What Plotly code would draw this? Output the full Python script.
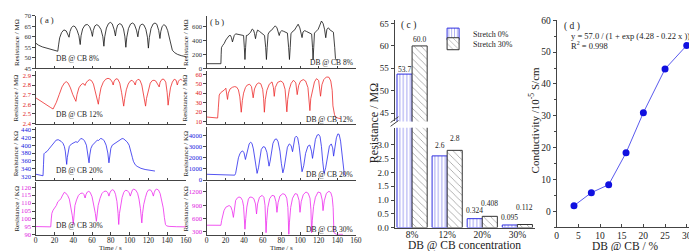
import plotly.graph_objects as go

W, H = 697, 251
FONT = "Liberation Serif"

def px(x):
    return x / W

def py(y):
    return 1 - y / H

# ---------------- DATA ----------------
time_ticks = [0, 20, 40, 60, 80, 100, 120, 140, 160]

# (a) DB @ CB 8 %  (time s, resistance MOhm)
a8 = [(0, 57.0), (3, 56.0), (7, 55.2), (12, 54.5), (17, 54.0), (21, 53.6), (23.5, 53.1), (24.5, 56.5), (25.5, 59.5),
      (27.5, 62.0), (30, 63.3), (32.5, 62.8), (34.3, 61.3), (35.5, 59.8), (36.5, 62.5), (38, 64.3), (40, 65.2), (42, 64.8),
      (44, 63.2), (46, 60.5), (47.4, 56.3), (48.3, 60.5), (50, 63.8), (52.5, 65.6), (55, 65.9), (57.5, 64.8), (59.3, 62.5),
      (60.4, 60.2), (61.3, 63.0), (63, 65.2), (65, 65.8), (67, 65.3), (69.5, 63.5), (71.5, 60.0), (72.6, 55.5), (73.5, 60.0),
      (75.3, 64.2), (77.5, 66.3), (79.5, 66.9), (81.5, 66.2), (83.5, 63.5), (84.9, 60.4), (85.8, 63.3), (87.3, 65.6),
      (89.5, 66.3), (91.5, 65.8), (93.5, 63.8), (95, 60.0), (96, 55.0), (97, 59.8), (98.8, 64.0), (101, 66.1), (103, 66.6),
      (105, 66.0), (107.3, 63.2), (108.8, 60.0), (109.7, 63.0), (111.2, 65.4), (113.3, 66.1), (115.3, 65.6), (117.3, 63.6),
      (119, 59.8), (120, 54.6), (121, 59.6), (122.8, 64.0), (125, 66.1), (127, 66.6), (129, 66.0), (131, 63.0), (132.3, 59.2),
      (133.2, 62.5), (134.7, 65.0), (136.5, 65.8), (138.5, 65.2), (140.5, 63.0), (142.5, 59.5), (144, 55.5), (145.5, 53.6),
      (148, 52.4), (151, 51.6), (155, 51.0), (160, 50.5)]

# (a) DB @ CB 12 %  (MOhm)
a12 = [(0, 2.667), (4, 2.64), (8, 2.61), (12, 2.585), (16, 2.565), (18.5, 2.55), (20, 2.575), (22, 2.62), (25, 2.70),
       (28, 2.78), (30.5, 2.82), (32.5, 2.835), (34.5, 2.82), (37, 2.77), (39.5, 2.70), (41.5, 2.65), (42.8, 2.63),
       (44, 2.70), (46, 2.77), (48, 2.80), (50, 2.815), (51.5, 2.81), (52.5, 2.795), (53.5, 2.82), (55.5, 2.845),
       (57.5, 2.855), (59.5, 2.845), (61.5, 2.81), (63.5, 2.74), (65.5, 2.66), (66.7, 2.60), (67.8, 2.68), (69.5, 2.77),
       (72, 2.83), (74.5, 2.86), (77, 2.87), (79.5, 2.86), (81.5, 2.83), (82.5, 2.80), (83.5, 2.84), (85.5, 2.865),
       (87.5, 2.86), (89.5, 2.82), (91.5, 2.72), (93, 2.63), (93.7, 2.58), (94.8, 2.66), (96.5, 2.75), (98.5, 2.81),
       (100.5, 2.84), (102.5, 2.85), (104.5, 2.83), (106, 2.80), (107, 2.84), (109, 2.86), (111, 2.85), (113, 2.80),
       (115, 2.70), (116.3, 2.62), (117, 2.58), (118, 2.66), (120, 2.76), (122, 2.82), (124, 2.845), (126, 2.85),
       (128, 2.84), (130, 2.81), (131.5, 2.78), (132.5, 2.83), (134.5, 2.86), (136.5, 2.86), (138.5, 2.83), (140, 2.72),
       (141, 2.59), (142, 2.67), (143.5, 2.77), (145.5, 2.83), (147.5, 2.86), (149.5, 2.85), (150.8, 2.80), (152, 2.84),
       (154, 2.86), (156, 2.85)]

# (a) DB @ CB 20 %  (KOhm)
a20 = [(0, 326), (3, 325), (6, 323), (7.8, 322), (8.3, 350), (8.8, 378), (10, 381), (12, 384), (14, 390), (16.5, 397),
       (19, 406), (21.8, 413), (24, 414), (27, 410), (29, 405), (30.5, 397), (31.5, 385), (32.5, 365), (33, 351),
       (33.6, 368), (34.5, 385), (35.8, 397), (38, 403), (40, 406), (42.8, 409), (44.5, 407), (46, 412), (48, 417),
       (50, 416), (52, 411), (54, 400), (55.5, 380), (56.8, 355), (57.6, 375), (58.8, 392), (60.4, 400), (62.5, 406),
       (65.6, 413), (67, 412), (69, 417), (71, 416), (73, 411), (75, 400), (76.8, 380), (78, 355), (78.8, 375), (80, 392),
       (81.5, 400), (84, 404), (86.5, 407), (88.4, 409), (90, 412), (92, 417), (93.8, 416), (95.4, 413), (97.5, 408),
       (99.5, 400), (101.5, 385), (103, 368), (104, 359), (106, 350), (108, 346), (112, 341), (116.5, 338), (122, 336),
       (127, 334)]

# (a) DB @ CB 30 %  (KOhm)
a30 = [(0, 95.2), (5, 95.1), (10, 95.0), (16, 95.0), (16.6, 100), (17.2, 103.5), (18.5, 105.5), (20, 106.8), (22, 108.5),
       (23.5, 110.8), (25.5, 112.0), (27, 112.8), (28.2, 114.5), (29.3, 116.0), (30.5, 116.8), (32, 116.3), (34, 114.8),
       (35.8, 112.5), (37.5, 108), (39, 102), (40, 96.5), (40.8, 103), (41.8, 108.5), (43.5, 112), (45.5, 114.8),
       (47.5, 116), (49.8, 116.4), (51.3, 115.5), (52.6, 113.2), (53.6, 115.5), (55, 117.0), (56.5, 117.4), (58, 116.8),
       (60, 114), (61.8, 109.5), (63.5, 103.5), (64.6, 98.5), (65.4, 104), (66.5, 108.5), (68.5, 113), (70.5, 116),
       (72.6, 117.3), (75, 117.6), (76.8, 116.5), (78, 114.4), (79, 116.5), (80.5, 118.0), (82, 118.4), (83.5, 117.8),
       (85, 115.5), (86.5, 111), (87.7, 103.5), (88.4, 96.5), (89.2, 103.5), (90.3, 108.5), (92, 113.5), (93.8, 116.8),
       (95.4, 118.0), (97.5, 117.9), (99.5, 116.5), (100.7, 114.4), (101.7, 116.8), (103, 118.3), (104.5, 118.8),
       (106.5, 118.2), (108.5, 116.2), (110, 112.5), (111.5, 106.5), (112.4, 101), (113, 97.5), (113.8, 103.5),
       (115, 109), (116.8, 113.5), (118.5, 116.8), (120.2, 118.3), (122.3, 118.3), (124, 116.8), (125.3, 114.4),
       (126.3, 116.8), (127.5, 118.4), (128.9, 118.8), (130.8, 118.2), (132.5, 116), (134.3, 111.5), (135.8, 107),
       (137, 101), (138.2, 96.5), (139.5, 95.6), (142, 95.3), (150, 95.1), (160, 95.0)]

# (b) DB @ CB 8 %  (MOhm)
b8 = [(0, 65), (5, 65), (10, 65), (15.2, 65), (15.5, 200), (15.8, 295), (17, 325), (18.7, 355), (20.5, 405), (22.3, 448),
      (24, 468), (25.5, 470), (26.5, 440), (27.6, 378), (28.5, 420), (29.5, 470), (31, 494), (33, 488), (35, 478),
      (36.4, 470), (38, 472), (39.5, 470), (40.3, 300), (41, 125), (41.7, 300), (42.5, 470), (44, 475), (45.5, 492),
      (47, 517), (48.8, 563), (50.2, 548), (51.2, 500), (52.3, 424), (53.3, 500), (54.5, 548), (56.5, 530), (58.5, 505),
      (60.5, 482), (62, 470), (63.2, 300), (64, 125), (64.8, 300), (65.8, 490), (67.5, 528), (69.5, 545), (71.5, 580),
      (73.5, 609), (75.3, 580), (76.5, 530), (77.7, 470), (78.8, 520), (80.5, 540), (82.5, 530), (84.5, 512), (86.5, 505),
      (87.8, 300), (88.7, 125), (89.5, 300), (90.3, 495), (92, 528), (94, 545), (96, 590), (98, 632), (99.8, 580),
      (101, 520), (102.2, 440), (103.2, 520), (105, 540), (107, 528), (109, 517), (111, 505), (112.5, 490), (113.4, 300),
      (114, 125), (114.7, 300), (115.5, 505), (117.3, 530), (119.5, 560), (121.3, 620), (123, 678), (124.8, 640),
      (126.3, 560), (127.6, 438), (128.8, 560), (130.5, 580), (132.5, 545), (134.5, 530), (135.8, 517), (137.2, 300),
      (138, 140), (139.5, 110)]

# (b) DB @ CB 12 %  (MOhm)
b12 = [(0, 14.5), (5, 14.0), (11.7, 13.4), (12.5, 25), (13.4, 38), (15, 40.5), (17, 41.8), (19, 43.5), (20.5, 45.3),
       (21.5, 40), (22.3, 33.3), (23.2, 40), (25, 44.5), (27.6, 46.3), (30, 47), (32, 46.5), (34, 43.5), (35.5, 36),
       (37, 19.6), (38.2, 32), (39.5, 40), (41.5, 46), (43.5, 48.7), (46, 49.5), (48, 47), (49.8, 35), (51.2, 44.5),
       (53.5, 49.5), (55.8, 51), (58, 50), (60, 44), (61, 34), (61.8, 19.6), (62.8, 33), (64.5, 43), (67, 49.5), (70, 52),
       (71.5, 46), (72.4, 36.6), (73.5, 46), (76, 51.5), (79.5, 53), (82, 51), (84, 44), (85.2, 33), (85.9, 20), (86.8, 33),
       (88.5, 44), (90.5, 50.5), (93, 53.8), (95.5, 51), (97, 38.4), (98.5, 48), (100.5, 52.8), (103.5, 54.5), (106, 53),
       (108.5, 46), (110, 33), (110.6, 21.3), (111.5, 34), (113.5, 45), (115.5, 52), (117.7, 55.5), (120, 53.5),
       (122, 36.7), (123.5, 49), (125.5, 54.5), (128.3, 57.3), (131, 57), (133, 53), (134.5, 43), (135.3, 26.4), (137, 17),
       (138, 14.5), (141, 13.2), (144, 12.7)]

# (b) DB @ CB 20 %  (KOhm)
b20 = [(0, 520), (10, 480), (20, 450), (30, 440), (31, 600), (32.5, 1400), (34, 2000), (35.5, 2350), (37, 2550),
       (38.5, 2620), (40, 2450), (41.5, 1850), (42.8, 2300), (44, 2900), (45.5, 3250), (47, 3400), (48.5, 3300),
       (50, 2800), (51.5, 1800), (52.5, 1100), (54, 600), (55.5, 1100), (57, 2100), (58.5, 2750), (60.5, 3000),
       (62.5, 2950), (64.5, 2500), (66, 1500), (66.8, 1250), (68, 1700), (69.5, 2700), (71, 3300), (73, 3650),
       (74.8, 3700), (76.5, 3450), (78.5, 2600), (80, 1500), (81.6, 650), (83, 1100), (84.5, 2100), (86.5, 2950),
       (88.5, 3250), (90.5, 3100), (92, 2550), (93, 3200), (94.5, 3800), (96, 3950), (97.5, 3800), (99, 3100),
       (100.5, 1900), (102.2, 750), (104, 1300), (106, 2400), (108.5, 3050), (110.5, 3150), (112.3, 2600), (113.4, 1950),
       (114.8, 2700), (116.5, 3650), (118.5, 4050), (120, 4100), (121.5, 3900), (123, 3000), (124.3, 1700), (125.8, 600),
       (127.5, 1100), (129.5, 2300), (131.5, 3050), (133.5, 3250), (135, 2900), (136, 2150), (137.5, 3000), (139, 3800),
       (140.6, 4150), (142, 4100), (143.5, 3500), (144.8, 2500), (146.2, 1000), (147.5, 500), (149.5, 380)]

# (b) DB @ CB 30 %  (KOhm)
b30 = [(0, 452), (8, 450), (15.2, 450), (16, 560), (17, 666), (18.5, 780), (20.5, 857), (22.5, 890), (24, 895),
       (25.8, 870), (27.3, 780), (28.6, 628), (29.6, 800), (31, 1009), (33, 1070), (34.6, 1086), (36.5, 1075),
       (38.3, 1010), (39.5, 880), (40.3, 650), (41, 361), (41.8, 600), (43, 860), (44.7, 1040), (46.3, 1086),
       (48.5, 1080), (50.5, 1050), (52.3, 930), (53.4, 704), (54.5, 930), (56.5, 1080), (59.4, 1124), (61.3, 1080),
       (62.5, 900), (63.1, 600), (63.6, 284), (64.3, 560), (65.5, 850), (67.5, 1050), (70, 1124), (72.5, 1110),
       (74.2, 980), (75.3, 742), (76.5, 960), (78.5, 1110), (81.6, 1162), (84, 1140), (85.8, 1060), (87, 850), (87.6, 550),
       (88, 246), (88.7, 520), (90, 850), (92, 1060), (94.7, 1162), (97, 1150), (99, 1010), (100, 742), (101.3, 980),
       (103.5, 1140), (106.4, 1200), (108.8, 1170), (110.7, 1060), (111.7, 800), (112.4, 284), (113.2, 560), (114.5, 870),
       (116.5, 1080), (119.4, 1200), (122, 1180), (123.8, 1020), (124.7, 780), (126, 1000), (128.3, 1170), (131, 1215),
       (133, 1185), (134.5, 1080), (135.5, 850), (136.4, 284), (138.9, 246), (142, 245), (146, 246)]

# (c) resistance at stretch 0 % / 30 %
conc_labels = ["8%", "12%", "20%", "30%"]
stretch0 = [53.7, 2.6, 0.324, 0.095]
stretch30 = [60.0, 2.8, 0.408, 0.112]
stretch0_text = ["53.7", "2.6", "0.324", "0.095"]
stretch30_text = ["60.0", "2.8", "0.408", "0.112"]

# (d) conductivity
dbcb_pct = [4, 8, 12, 16, 20, 25, 30]
conductivity = [1.8, 5.9, 8.4, 18.4, 31.0, 44.7, 52.1]

# tick values
a_ticks = [[45, 50, 55, 60, 65, 70], [2.4, 2.5, 2.6, 2.7, 2.8, 2.9],
           [320, 340, 360, 380, 400, 420, 440], [90, 95, 100, 105, 110, 115, 120]]
b_ticks = [[0, 200, 400, 600], [10, 20, 30, 40, 50, 60], [0, 1000, 2000, 3000, 4000], [300, 600, 900, 1200]]
a_ranges = [[45, 70], [2.39, 2.95], [311, 447], [90, 123]]
b_ranges = [[0, 752], [6.6, 64.1], [0, 4790], [236, 1414]]
row_labels = ["DB @ CB 8%", "DB @ CB 12%", "DB @ CB 20%", "DB @ CB 30%"]
row_units = ["Resistance / MΩ", "Resistance / MΩ", "Resistance / KΩ", "Resistance / KΩ"]

# ---------------- STYLE ----------------
row_px = [(3, 57.5), (60, 116), (118.5, 174), (176.5, 231)]
line_colors = ["#111111", "#ee2a2a", "#2a2aee", "#ee2aee"]
tick_colors = ["#333333", "#e02020", "#2020e0", "#e020e0"]
AXC = "#444444"
TXT = "#222222"

fig = go.Figure()
layout = dict(width=W, height=H, margin=dict(l=0, r=0, t=0, b=0),
              paper_bgcolor="white", plot_bgcolor="white",
              font=dict(family=FONT, color=TXT, size=8),
              showlegend=True, barmode="group", bargap=0.14, bargroupgap=0.0)
annotations = []
shapes = []


def note(text, x, y, size, xanchor="center", yanchor="middle", angle=0):
    annotations.append(dict(text=text, x=px(x), y=py(y), xref="paper", yref="paper",
                            xanchor=xanchor, yanchor=yanchor, textangle=angle, showarrow=False,
                            font=dict(size=size, color=TXT)))


def ax_name(kind, idx):
    return kind + ("axis" if idx == 1 else "axis%d" % idx)


def ref(kind, idx):
    return kind if idx == 1 else "%s%d" % (kind, idx)


panels = [(a8, a12, a20, a30), (b8, b12, b20, b30)]
xdoms = [[px(26), px(178)], [px(199), px(350)]]
ranges = [a_ranges, b_ranges]
ticks = [a_ticks, b_ticks]

for p in range(2):
    for i in range(4):
        idx = 1 + i + 4 * p
        t, r = zip(*panels[p][i])
        fig.add_trace(go.Scatter(x=t, y=r, mode="lines", line=dict(color=line_colors[i], width=0.8),
                                 xaxis=ref("x", idx), yaxis=ref("y", idx), showlegend=False, hoverinfo="skip"))
        top, bot = row_px[i]
        layout[ax_name("x", idx)] = dict(domain=xdoms[p], range=[0, 160], anchor=ref("y", idx),
                                         tickvals=time_ticks, showticklabels=(i == 3), ticklabelstandoff=-2,
                                         ticks="inside", ticklen=2.5, tickwidth=0.8, tickcolor=AXC,
                                         showline=True, linecolor=AXC, linewidth=0.8, showgrid=False,
                                         zeroline=False, tickfont=dict(size=7.5, color=TXT))
        yt = ticks[p][i]
        layout[ax_name("y", idx)] = dict(domain=[py(bot), py(top)], range=ranges[p][i], anchor=ref("x", idx),
                                         tickvals=yt, ticktext=[("%.1f" % v) if p == 0 and i == 1 else str(v) for v in yt],
                                         ticks="outside", ticklen=2.5, tickwidth=0.8, tickcolor=AXC,
                                         showline=True, linecolor=AXC, linewidth=0.8, showgrid=False,
                                         zeroline=False, tickfont=dict(size=6.6, color=tick_colors[i]))
        if p == 0:
            note(row_labels[i], 45, bot - 10, 7.5, xanchor="left")
        else:
            note(row_labels[i], 349, bot - 5.5, 7.5, xanchor="right")
        note(row_units[i], 7 if p == 0 else 178, (top + bot) / 2, 7, angle=-90)

note("( a )", 37, 7, 8.5)
note("( b )", 209, 9, 8.5)
note("Time / s", 102, 245, 7)
note("Time / s", 275, 245, 7)

# ---------------- (c) bar chart with broken axis ----------------
BLUE = "#3030e0"
pat0 = dict(shape="|", fgcolor=BLUE, bgcolor="white", size=3.5, solidity=0.25)
pat30 = dict(shape="\\", fgcolor="#333333", bgcolor="white", size=5, solidity=0.15)
for xi, yi, show in [(9, 9, True), (10, 10, False)]:
    fig.add_trace(go.Bar(x=conc_labels, y=stretch0, name="Stretch 0%", showlegend=show, legend="legend",
                         marker=dict(color="white", pattern=pat0, line=dict(color=BLUE, width=1)),
                         xaxis=ref("x", xi), yaxis=ref("y", yi), hoverinfo="skip"))
    fig.add_trace(go.Bar(x=conc_labels, y=stretch30, name="Stretch 30%", showlegend=show, legend="legend2",
                         marker=dict(color="white", pattern=pat30, line=dict(color="#333333", width=1)),
                         xaxis=ref("x", xi), yaxis=ref("y", yi), hoverinfo="skip"))

cdom = [px(389), px(531)]
layout["xaxis9"] = dict(domain=cdom, type="category", range=[-0.5, 3.5], anchor="y9",
                        showline=True, linecolor=AXC, linewidth=0.9, ticks="", showgrid=False,
                        ticklabelstandoff=-2, tickfont=dict(size=9.5, color=TXT))
layout["xaxis10"] = dict(domain=cdom, type="category", range=[-0.5, 3.5], anchor="y10", matches="x9",
                         visible=False)
layout["yaxis9"] = dict(domain=[py(223.5), py(119.5)], range=[0, 3.62], anchor="x9",
                        tickvals=[0, 0.5, 1.0, 1.5, 2.0, 2.5, 3.0],
                        ticktext=["0.0", "0.5", "1.0", "1.5", "2.0", "2.5", "3.0"],
                        ticks="outside", ticklen=3, tickcolor=AXC, showline=True, linecolor=AXC, linewidth=0.9,
                        showgrid=False, zeroline=False, tickfont=dict(size=9, color=TXT))
layout["yaxis10"] = dict(domain=[py(113), py(7)], range=[43.1, 65.86], anchor="x10",
                         tickvals=[45, 50, 55, 60, 65], ticks="outside", ticklen=3, tickcolor=AXC,
                         showline=True, linecolor=AXC, linewidth=0.9, showgrid=False, zeroline=False,
                         tickfont=dict(size=9, color=TXT))

s0_shift = [5, 10, 8, 7]
s30_shift = [6, 12, 13, 17]
for k, cat in enumerate(conc_labels):
    up = (k == 0)
    xr = "x10" if up else "x9"
    yr = "y10" if up else "y9"
    annotations.append(dict(text=stretch0_text[k], x=cat, y=stretch0[k], xref=xr, yref=yr, xshift=-7.6,
                            yshift=s0_shift[k], xanchor="center", yanchor="middle", showarrow=False,
                            font=dict(size=7.5, color=TXT)))
    annotations.append(dict(text=stretch30_text[k], x=cat, y=stretch30[k], xref=xr, yref=yr, xshift=7.6,
                            yshift=s30_shift[k], xanchor="center", yanchor="middle", showarrow=False,
                            font=dict(size=7.5, color=TXT)))

note("( c )", 403, 13, 9.5)
note("Resistance / MΩ", 369, 115, 12, angle=-90)
note("DB @ CB concentration", 460, 242, 11.5)
# axis break marks
for dy in (0, 4):
    shapes.append(dict(type="line", xref="paper", yref="paper", x0=px(385), y0=py(118 + dy - 4),
                       x1=px(393), y1=py(112 + dy - 4), line=dict(color=AXC, width=1)))

leg_common = dict(xanchor="left", yanchor="middle", bgcolor="rgba(0,0,0,0)",
                  font=dict(size=8, color=TXT), itemwidth=30)
layout["legend"] = dict(x=px(428), y=py(22), **leg_common)
layout["legend2"] = dict(x=px(428), y=py(32), **leg_common)

# ---------------- (d) conductivity ----------------
fig.add_trace(go.Scatter(x=dbcb_pct, y=conductivity, mode="lines+markers",
                         line=dict(color="#5a5aee", width=1),
                         marker=dict(color="#1010e0", size=7),
                         xaxis="x11", yaxis="y11", showlegend=False, hoverinfo="skip"))
layout["xaxis11"] = dict(domain=[px(553), px(696)], range=[0, 32.6], anchor="y11",
                         tickvals=[0, 5, 10, 15, 20, 25, 30], ticks="inside", ticklen=3, tickcolor=AXC,
                         ticklabelstandoff=-1,
                         showline=True, linecolor=AXC, linewidth=0.9, showgrid=False, zeroline=False,
                         tickfont=dict(size=9.5, color=TXT))
layout["yaxis11"] = dict(domain=[py(223.3), py(7.5)], range=[-5, 60], anchor="x11",
                         tickvals=[0, 10, 20, 30, 40, 50, 60], ticks="outside", ticklen=3, tickcolor=AXC,
                         minor=dict(dtick=5, ticks="outside", ticklen=2, tickcolor=AXC),
                         showline=True, linecolor=AXC, linewidth=0.9, showgrid=False, zeroline=False,
                         tickfont=dict(size=9.5, color=TXT))
note("( d )", 569, 14, 9.5)
note("y = 57.0 / (1 + exp (4.28 - 0.22 x ))", 565, 24, 8.5, xanchor="left")
note("R<sup>2</sup> = 0.998", 565, 34, 8.5, xanchor="left")
note("Conductivity /10<sup>-5</sup> S/cm", 530, 112, 11, angle=-90)
note("DB @ CB / %", 623, 243, 11.5)

layout["annotations"] = annotations
layout["shapes"] = shapes
fig.update_layout(**layout)
fig.write_html("out.html")
